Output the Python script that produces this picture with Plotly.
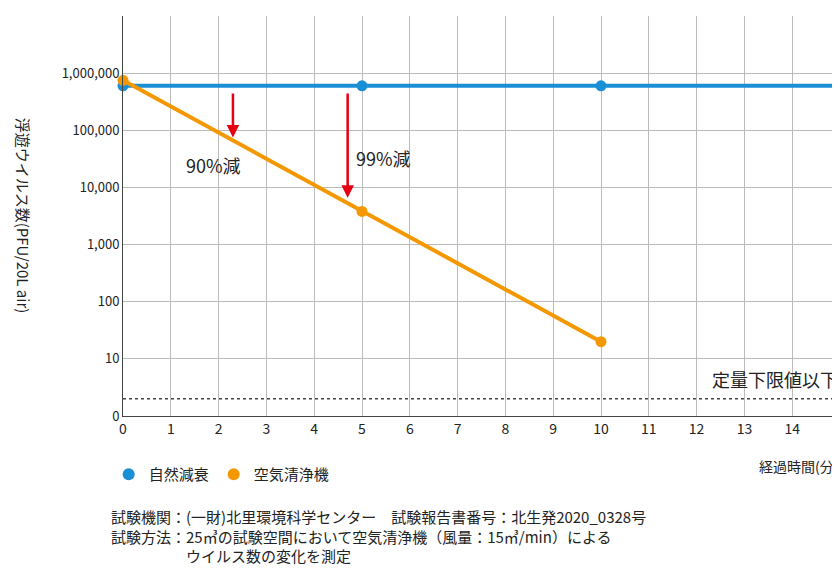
import plotly.graph_objects as go
import math

minutes = [0, 5, 10, 15]
natural = [600000, 600000, 600000, 600000]
purifier_x = [0, 5, 10]
purifier = [750000, 3800, 20]
limit_value = 2
yticks = [1, 10, 100, 1000, 10000, 100000, 1000000, 10000000]
yticklabels = ["0", "10", "100", "1,000", "10,000", "100,000", "1,000,000", "10,000,000"]

L = math.log10
F = "Noto Sans CJK JP"
fig = go.Figure()
fig.add_trace(go.Scatter(x=[0, 15], y=[limit_value, limit_value], mode="lines",
    line=dict(color="#444", dash="dot", width=1.5), showlegend=False, hoverinfo="skip"))
fig.add_trace(go.Scatter(x=minutes, y=natural, mode="lines+markers", showlegend=False,
    line=dict(color="#1a8fd6", width=4), marker=dict(size=11, color="#1a8fd6")))
fig.add_trace(go.Scatter(x=purifier_x, y=purifier, mode="lines+markers", showlegend=False,
    line=dict(color="#f39800", width=4), marker=dict(size=11, color="#f39800")))
fig.add_trace(go.Scatter(x=[15], y=[limit_value], mode="markers", showlegend=False, cliponaxis=False,
    marker=dict(size=9, color="white", line=dict(color="#f39800", width=1.5))))
fig.add_trace(go.Scatter(x=[None], y=[None], mode="markers", name="自然減衰",
    marker=dict(size=12, color="#1a8fd6")))
fig.add_trace(go.Scatter(x=[None], y=[None], mode="markers", name="空気清浄機",
    marker=dict(size=12, color="#f39800")))
fig.data[1].cliponaxis = False
fig.data[2].cliponaxis = False

fig.update_layout(
    width=840, height=572, margin=dict(l=115, r=8, t=8, b=164, autoexpand=False),
    plot_bgcolor="white", paper_bgcolor="white",
    font=dict(family=F, size=14, color="#222"),
    xaxis=dict(range=[0, 15], dtick=1, showgrid=True, gridcolor="#bbb", linecolor="#444",
               showline=True, ticks="", zeroline=False, tickfont=dict(size=14), automargin=False),
    yaxis=dict(type="log", range=[0, 7.0005], tickvals=yticks, ticktext=yticklabels,
               showgrid=True, gridcolor="#bbb", linecolor="#444", showline=True,
               zeroline=False, tickfont=dict(size=13), automargin=False),
    legend=dict(orientation="h", x=-0.02, y=-0.105, xanchor="left", yanchor="top",
                font=dict(size=15), itemwidth=30, tracegroupgap=0),
    showlegend=True,
)
ann = [
    dict(x=2.3, y=L(75000), ax=2.3, ay=L(470000), axref="x", ayref="y", showarrow=True,
         arrowcolor="#e60012", arrowwidth=2.5, arrowhead=2, arrowsize=1, text=""),
    dict(x=4.7, y=L(6600), ax=4.7, ay=L(470000), axref="x", ayref="y", showarrow=True,
         arrowcolor="#e60012", arrowwidth=2.5, arrowhead=2, arrowsize=1, text=""),
    dict(x=1.9, y=L(25000), text="90%減", showarrow=False, font=dict(size=18)),
    dict(x=5.45, y=L(33000), text="99%減", showarrow=False, font=dict(size=18)),
    dict(x=15, y=L(2.4), text="定量下限値以下", showarrow=False, xanchor="right", yanchor="bottom",
         font=dict(size=18)),
    dict(xref="paper", yref="paper", x=1, y=-0.095, text="経過時間(分)", showarrow=False,
         xanchor="right", yanchor="top", font=dict(size=14)),
    dict(xref="paper", yref="paper", x=-0.155, y=0.5, text="浮遊ウイルス数(PFU/20L air)",
         textangle=90, showarrow=False, font=dict(size=15)),
    dict(xref="paper", yref="paper", x=-0.02, y=-0.22, xanchor="left", yanchor="top", align="left",
         showarrow=False, font=dict(size=15),
         text="試験機関：(一財)北里環境科学センター　試験報告書番号：北生発2020_0328号<br>"
              "試験方法：25㎥の試験空間において空気清浄機（風量：15㎥/min）による<br>"
              "　　　　　ウイルス数の変化を測定"),
]
fig.update_layout(annotations=ann)
fig.write_html("out.html")
